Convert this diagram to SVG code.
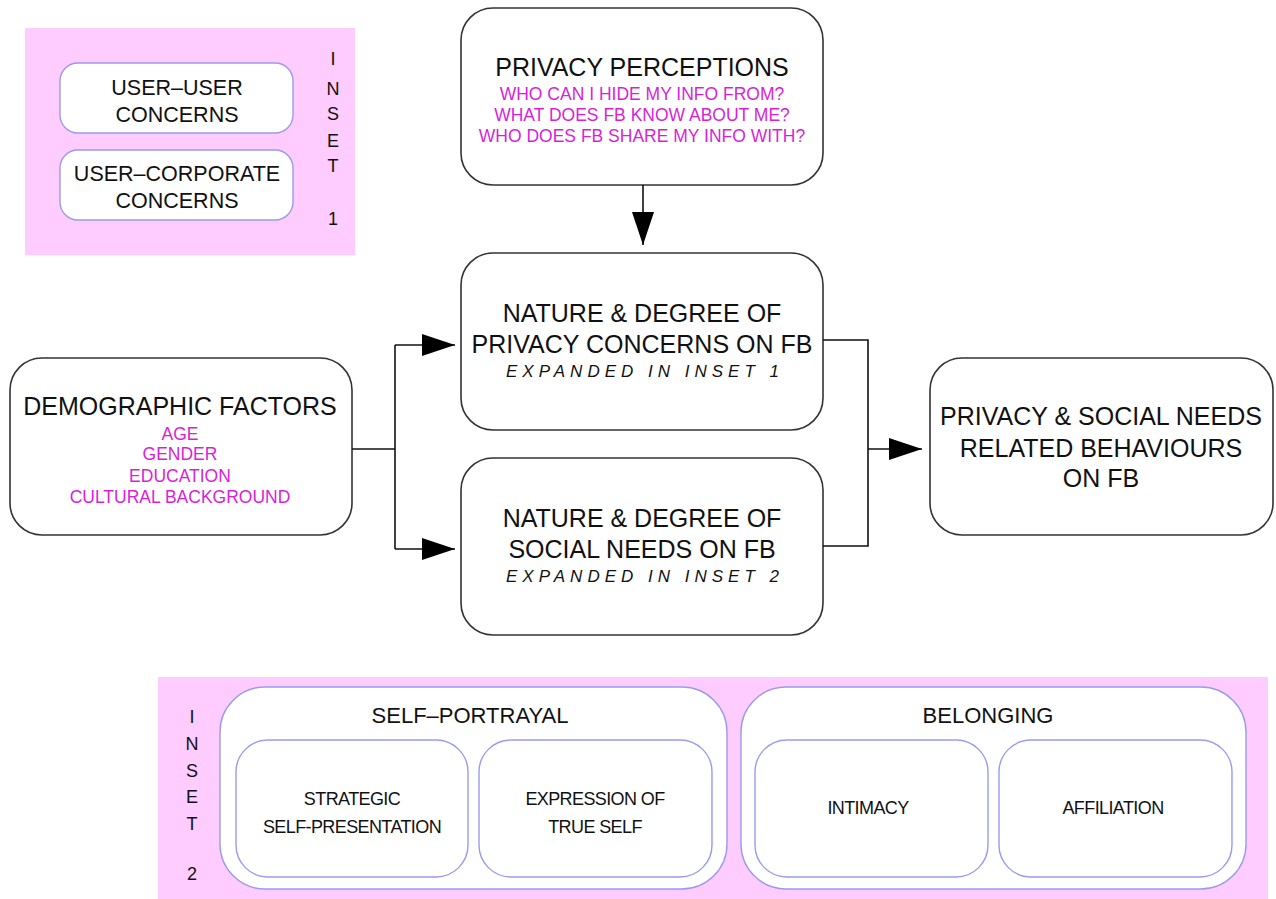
<svg xmlns="http://www.w3.org/2000/svg" width="1276" height="899" viewBox="0 0 1276 899">
<style>
.box{fill:#fff;stroke:#333;stroke-width:1.6}
.ibox{fill:#fff;stroke:#9a9af0;stroke-width:1.4}
.pink{fill:#ffccff}
text{font-family:"Liberation Sans",Arial,sans-serif;fill:#111;text-anchor:middle}
.t{font-size:25px}
.m{font-size:17.5px;fill:#d81fd8}
.it{font-size:17px;font-style:italic;letter-spacing:5px}
.s{font-size:21.5px}
.s2{font-size:22px}
.ss{font-size:18px;letter-spacing:-0.6px}
.v{font-size:18px}
.con{fill:none;stroke:#111;stroke-width:1.6}
</style>
<defs>
<marker id="ahb" viewBox="0 0 33 22" refX="33" refY="11" markerWidth="33" markerHeight="22" orient="auto" markerUnits="userSpaceOnUse">
<path d="M0,0 L33,11 L0,22 Z" fill="#000"/>
</marker>
</defs>

<g id="inset1">
<rect class="pink" x="25" y="28" width="330" height="227"/>
<rect class="ibox" x="60" y="63" width="233" height="70" rx="18"/>
<text class="s" x="177" y="95">USER–USER</text>
<text class="s" x="177" y="122">CONCERNS</text>
<rect class="ibox" x="60" y="150" width="233" height="70" rx="18"/>
<text class="s" x="177" y="181">USER–CORPORATE</text>
<text class="s" x="177" y="208">CONCERNS</text>
<text class="v" x="333" y="65">I</text>
<text class="v" x="333" y="95">N</text>
<text class="v" x="333" y="120">S</text>
<text class="v" x="333" y="147">E</text>
<text class="v" x="333" y="172">T</text>
<text class="v" x="333" y="225">1</text>
</g>

<g id="privacy-perceptions">
<rect class="box" x="461" y="8" width="362" height="177" rx="32"/>
<text class="t" x="642" y="76">PRIVACY PERCEPTIONS</text>
<text class="m" x="642" y="100">WHO CAN I HIDE MY INFO FROM?</text>
<text class="m" x="642" y="121">WHAT DOES FB KNOW ABOUT ME?</text>
<text class="m" x="642" y="142">WHO DOES FB SHARE MY INFO WITH?</text>
</g>

<g id="privacy-concerns">
<rect class="box" x="461" y="253" width="362" height="177" rx="32"/>
<text class="t" x="642" y="322">NATURE &amp; DEGREE OF</text>
<text class="t" x="642" y="353">PRIVACY CONCERNS ON FB</text>
<text class="it" x="645" y="377">EXPANDED IN INSET 1</text>
</g>

<g id="social-needs">
<rect class="box" x="461" y="458" width="362" height="177" rx="32"/>
<text class="t" x="642" y="527">NATURE &amp; DEGREE OF</text>
<text class="t" x="642" y="558">SOCIAL NEEDS ON FB</text>
<text class="it" x="645" y="582">EXPANDED IN INSET 2</text>
</g>

<g id="demographic">
<rect class="box" x="10" y="358" width="342" height="177" rx="32"/>
<text class="t" x="180" y="415">DEMOGRAPHIC FACTORS</text>
<text class="m" x="180" y="440">AGE</text>
<text class="m" x="180" y="460">GENDER</text>
<text class="m" x="180" y="482">EDUCATION</text>
<text class="m" x="180" y="503">CULTURAL BACKGROUND</text>
</g>

<g id="behaviours">
<rect class="box" x="930" y="358" width="343" height="177" rx="32"/>
<text class="t" x="1101" y="425">PRIVACY &amp; SOCIAL NEEDS</text>
<text class="t" x="1101" y="457">RELATED BEHAVIOURS</text>
<text class="t" x="1101" y="487">ON FB</text>
</g>

<g id="inset2">
<rect class="pink" x="158" y="677" width="1110" height="222"/>
<text class="v" x="192" y="723">I</text>
<text class="v" x="192" y="750">N</text>
<text class="v" x="192" y="777">S</text>
<text class="v" x="192" y="803">E</text>
<text class="v" x="192" y="830">T</text>
<text class="v" x="192" y="880">2</text>
<g id="self-portrayal">
<rect class="ibox" x="220" y="687" width="507" height="202" rx="45"/>
<text class="s2" x="470" y="723">SELF–PORTRAYAL</text>
<rect class="ibox" x="236" y="740" width="232" height="137" rx="32"/>
<text class="ss" x="352" y="805">STRATEGIC</text>
<text class="ss" x="352" y="833">SELF-PRESENTATION</text>
<rect class="ibox" x="479" y="740" width="233" height="137" rx="32"/>
<text class="ss" x="595" y="805">EXPRESSION OF</text>
<text class="ss" x="595" y="833">TRUE SELF</text>
</g>
<g id="belonging">
<rect class="ibox" x="741" y="687" width="505" height="202" rx="45"/>
<text class="s2" x="988" y="723">BELONGING</text>
<rect class="ibox" x="755" y="740" width="233" height="137" rx="32"/>
<text class="ss" x="868" y="814">INTIMACY</text>
<rect class="ibox" x="999" y="740" width="233" height="137" rx="32"/>
<text class="ss" x="1113" y="814">AFFILIATION</text>
</g>
</g>

<g id="connectors">
<line class="con" x1="643" y1="185" x2="643" y2="245" marker-end="url(#ahb)"/>
<polyline class="con" points="352,449 395,449"/>
<polyline class="con" points="395,345 395,549"/>
<line class="con" x1="395" y1="345" x2="455" y2="345" marker-end="url(#ahb)"/>
<line class="con" x1="395" y1="549" x2="455" y2="549" marker-end="url(#ahb)"/>
<polyline class="con" points="823,340 868,340 868,546 823,546"/>
<line class="con" x1="868" y1="449" x2="922" y2="449" marker-end="url(#ahb)"/>
</g>
</svg>
